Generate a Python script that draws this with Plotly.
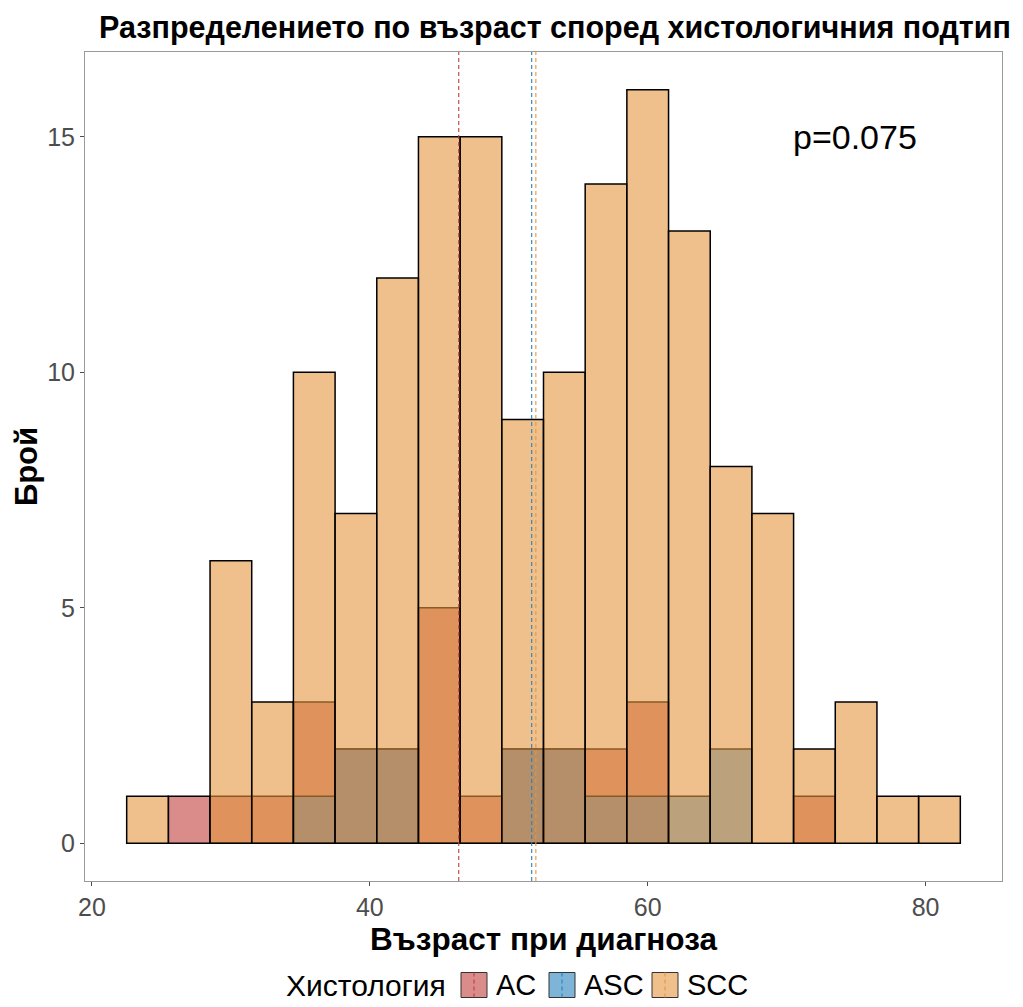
import plotly.graph_objects as go

# Age bins (width 3 years), given by their centres
bin_centres = [24, 27, 30, 33, 36, 39, 42, 45, 48, 51, 54, 57, 60, 63, 66, 69, 72, 75, 78, 81]
bin_width = 3

# Patient counts per age bin for each histological subtype
ac_counts = [0, 1, 1, 1, 3, 2, 2, 5, 1, 2, 2, 2, 3, 0, 0, 0, 1, 0, 0, 0]
asc_counts = [0, 0, 0, 0, 1, 2, 2, 0, 0, 2, 2, 1, 1, 1, 2, 0, 0, 0, 0, 0]
scc_counts = [1, 0, 6, 3, 10, 7, 12, 15, 15, 9, 10, 14, 16, 13, 8, 7, 2, 3, 1, 1]

# Mean age at diagnosis per subtype
subtypes = ["AC", "ASC", "SCC"]
mean_age = [46.4, 51.65, 51.95]

x_ticks = [20, 40, 60, 80]
y_ticks = [0, 5, 10, 15]
p_label = "p=0.075"

base_colours = {"AC": (192, 63, 60), "ASC": (38, 130, 188), "SCC": (228, 150, 63)}
alpha = 0.6

W, H = 1023, 1007
M_L, M_R, M_T, M_B = 85, 21, 52, 126
PW, PH = W - M_L - M_R, H - M_T - M_B

font_main = "Liberation Sans, Arial, sans-serif"


def rgba(rgb, a):
    return f"rgba({rgb[0]},{rgb[1]},{rgb[2]},{a})"


def px_x(px):
    return (px - M_L) / PW


def px_y(py):
    return (H - M_B - py) / PH


fig = go.Figure()

for name, counts in zip(subtypes, [ac_counts, asc_counts, scc_counts]):
    fig.add_trace(go.Bar(
        x=bin_centres,
        y=[c if c > 0 else None for c in counts],
        width=bin_width,
        name=name,
        marker=dict(color=rgba(base_colours[name], alpha),
                    line=dict(color="black", width=1.5)),
        showlegend=False,
        hoverinfo="x+y+name",
    ))

y_lo, y_hi = -0.8, 16.8
for name, m in zip(subtypes, mean_age):
    fig.add_trace(go.Scatter(
        x=[m, m], y=[y_lo, y_hi], mode="lines",
        line=dict(color=rgba(base_colours[name], 1), width=1.1, dash="4px,3px"),
        showlegend=False, hoverinfo="skip",
    ))

# Bottom legend: title, keys with a dashed mean marker, labels
shapes = []
annotations = []
legend_y = 985
key_half = 12.5
annotations.append(dict(
    x=px_x(448), y=px_y(legend_y), xref="paper", yref="paper",
    text="Хистология", showarrow=False, xanchor="right", yanchor="middle",
    font=dict(family=font_main, size=30, color="black"),
))
key_lefts = [461, 549, 652]
for name, kx in zip(subtypes, key_lefts):
    shapes.append(dict(
        type="rect", xref="paper", yref="paper",
        x0=px_x(kx), x1=px_x(kx + 26),
        y0=px_y(legend_y + key_half), y1=px_y(legend_y - key_half),
        fillcolor=rgba(base_colours[name], alpha),
        line=dict(color="#333333", width=1),
    ))
    shapes.append(dict(
        type="line", xref="paper", yref="paper",
        x0=px_x(kx + 13), x1=px_x(kx + 13),
        y0=px_y(legend_y + key_half), y1=px_y(legend_y - key_half),
        line=dict(color=rgba(base_colours[name], 1), width=1.1, dash="4px,3px"),
    ))
    annotations.append(dict(
        x=px_x(kx + 33), y=px_y(legend_y), xref="paper", yref="paper",
        text=name, showarrow=False, xanchor="left", yanchor="middle",
        font=dict(family=font_main, size=29, color="black"),
    ))

annotations.append(dict(
    x=70.3, y=15.0, xref="x", yref="y", text=p_label, showarrow=False,
    xanchor="left", yanchor="middle",
    font=dict(family=font_main, size=34, color="black"),
))

fig.update_layout(
    width=W, height=H,
    margin=dict(l=M_L, r=M_R, t=M_T, b=M_B),
    paper_bgcolor="white", plot_bgcolor="white",
    barmode="overlay",
    title=dict(text="<b>Разпределението по възраст според хистологичния подтип</b>",
               x=555 / W, xanchor="center", y=1 - 27 / H, yanchor="middle",
               font=dict(family=font_main, size=30.5, color="black")),
    shapes=shapes,
    annotations=annotations,
)

fig.update_xaxes(
    range=[19.5, 85.5], tickvals=x_ticks, ticks="outside", ticklen=4,
    tickcolor="#4d4d4d", showgrid=False, zeroline=False,
    showline=True, mirror=True, linecolor="#9a9a9a", linewidth=1,
    tickfont=dict(family=font_main, size=25, color="#4d4d4d"),
    title=dict(text="<b>Възраст при диагноза</b>", standoff=4,
               font=dict(family=font_main, size=31.5, color="black")),
)
fig.update_yaxes(
    range=[y_lo, y_hi], tickvals=y_ticks, ticks="outside", ticklen=4,
    tickcolor="#4d4d4d", showgrid=False, zeroline=False,
    showline=True, mirror=True, linecolor="#9a9a9a", linewidth=1,
    tickfont=dict(family=font_main, size=25, color="#4d4d4d"),
    title=dict(text="<b>Брой</b>", standoff=0,
               font=dict(family=font_main, size=31, color="black")),
)

fig.write_html("out.html")
